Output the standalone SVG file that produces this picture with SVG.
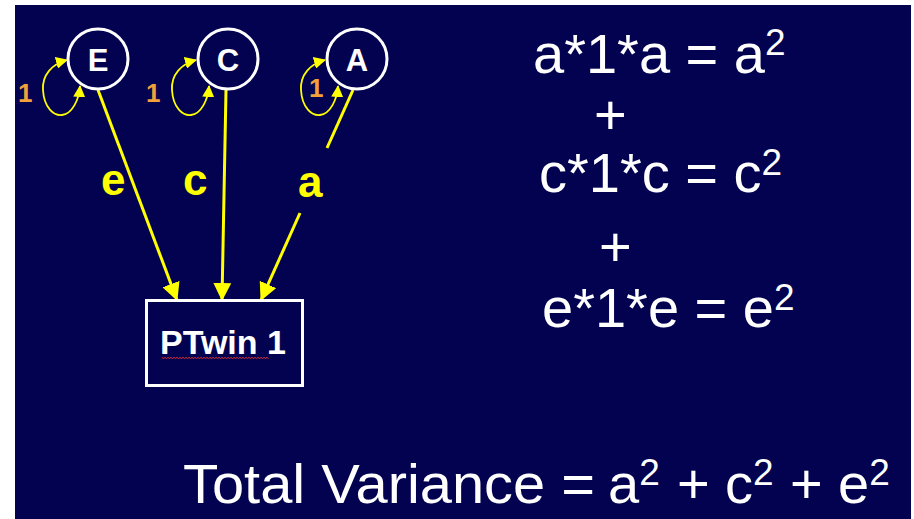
<svg xmlns="http://www.w3.org/2000/svg" width="914" height="519" viewBox="0 0 914 519">
<style>
.node{fill:none;stroke:#ffffff;stroke-width:3}
.lbl{font-family:"Liberation Sans",Arial,sans-serif;font-weight:bold;fill:#ffffff}
.yl{font-family:"Liberation Sans",Arial,sans-serif;font-weight:bold;fill:#ffff00;font-size:44px}
.one{font-family:"Liberation Sans",Arial,sans-serif;font-weight:bold;fill:#f4a03a;font-size:26px}
.eq{font-family:"Liberation Sans",Arial,sans-serif;fill:#ffffff;font-size:56px}
.sup{font-size:37px}
.path{fill:none;stroke:#ffff00;stroke-width:3}
.loop{fill:none;stroke:#ffff00;stroke-width:1.8}
</style>
<defs>
<marker id="arrL" viewBox="0 0 18 18" refX="17" refY="9" markerWidth="18" markerHeight="18" markerUnits="userSpaceOnUse" orient="auto">
<path d="M0,0 L18,9 L0,18 z" fill="#ffff00"/>
</marker>
<marker id="arrS" viewBox="0 0 12 12" refX="11" refY="6" markerWidth="12" markerHeight="12" markerUnits="userSpaceOnUse" orient="auto-start-reverse">
<path d="M0,0 L12,6 L0,12 z" fill="#ffff00"/>
</marker>
</defs>
<rect x="0" y="0" width="914" height="519" fill="#ffffff"/>
<rect x="15" y="5" width="896" height="514" fill="#020250"/>

<g id="connectors">
<path class="path" d="M98,90 L177,300" marker-end="url(#arrL)"/>
<path class="path" d="M226,90 L222,300" marker-end="url(#arrL)"/>
<path class="path" d="M353,90 L327,148"/>
<path class="path" d="M300,213 L261,300" marker-end="url(#arrL)"/>
<path class="loop" d="M67,60 C52,64 42,75 43,90 C44,108 54,116 62,115 C72,114 79,100 80,86" marker-start="url(#arrS)" marker-end="url(#arrS)"/>
<path class="loop" d="M196,60 C181,64 171,75 172,90 C173,108 183,116 191,115 C201,114 208,100 209,86" marker-start="url(#arrS)" marker-end="url(#arrS)"/>
<path class="loop" d="M325,60 C310,64 300,75 301,90 C302,108 312,116 320,115 C330,114 337,100 338,86" marker-start="url(#arrS)" marker-end="url(#arrS)"/>
<text class="one" x="18" y="102">1</text>
<text class="one" x="146" y="102">1</text>
<text class="one" x="309" y="97">1</text>
<text class="yl" x="101" y="195">e</text>
<text class="yl" x="183" y="195">c</text>
<text class="yl" x="298" y="197">a</text>
</g>

<g id="node-E">
<circle class="node" cx="98" cy="59" r="30"/>
<text class="lbl" x="98" y="71" font-size="31" text-anchor="middle">E</text>
</g>
<g id="node-C">
<circle class="node" cx="228" cy="59" r="30"/>
<text class="lbl" x="228" y="71" font-size="31" text-anchor="middle">C</text>
</g>
<g id="node-A">
<circle class="node" cx="357" cy="59" r="30"/>
<text class="lbl" x="357" y="71" font-size="31" text-anchor="middle">A</text>
</g>
<g id="node-PTwin1">
<rect class="node" x="146.5" y="300.5" width="156" height="85"/>
<text class="lbl" x="160" y="354" font-size="34">PTwin 1</text>
<path d="M162,357 l1.5,2 l1.5,-2 l1.5,2 l1.5,-2 l1.5,2 l1.5,-2 l1.5,2 l1.5,-2 l1.5,2 l1.5,-2 l1.5,2 l1.5,-2 l1.5,2 l1.5,-2 l1.5,2 l1.5,-2 l1.5,2 l1.5,-2 l1.5,2 l1.5,-2 l1.5,2 l1.5,-2 l1.5,2 l1.5,-2 l1.5,2 l1.5,-2 l1.5,2 l1.5,-2 l1.5,2 l1.5,-2 l1.5,2 l1.5,-2 l1.5,2 l1.5,-2 l1.5,2 l1.5,-2 l1.5,2 l1.5,-2 l1.5,2 l1.5,-2 l1.5,2 l1.5,-2 l1.5,2 l1.5,-2 l1.5,2 l1.5,-2 l1.5,2 l1.5,-2 l1.5,2 l1.5,-2 l1.5,2 l1.5,-2 l1.5,2 l1.5,-2 l1.5,2 l1.5,-2 l1.5,2 l1.5,-2 l1.5,2 l1.5,-2 l1.5,2 l1.5,-2 l1.5,2 l1.5,-2 l1.5,2 l1.5,-2 l1.5,2 l1.5,-2 l1.5,2 l1.5,-2 l1.5,2" fill="none" stroke="#e03030" stroke-width="0.8"/>
</g>

<g id="equations">
<text class="eq" x="533" y="73">a*1*a = a<tspan class="sup" dy="-18">2</tspan></text>
<text class="eq" x="594" y="134">+</text>
<text class="eq" x="539" y="192">c*1*c = c<tspan class="sup" dy="-17">2</tspan></text>
<text class="eq" x="599" y="266">+</text>
<text class="eq" x="542" y="327">e*1*e = e<tspan class="sup" dy="-17">2</tspan></text>
<text class="eq" x="183" y="503" textLength="412" lengthAdjust="spacingAndGlyphs">Total Variance =</text>
<text class="eq" x="608" y="503">a<tspan class="sup" dy="-18">2</tspan></text>
<text class="eq" x="677" y="503">+</text>
<text class="eq" x="725" y="503">c<tspan class="sup" dy="-18">2</tspan></text>
<text class="eq" x="790" y="503">+</text>
<text class="eq" x="838" y="503">e<tspan class="sup" dy="-18">2</tspan></text>
</g>
</svg>
